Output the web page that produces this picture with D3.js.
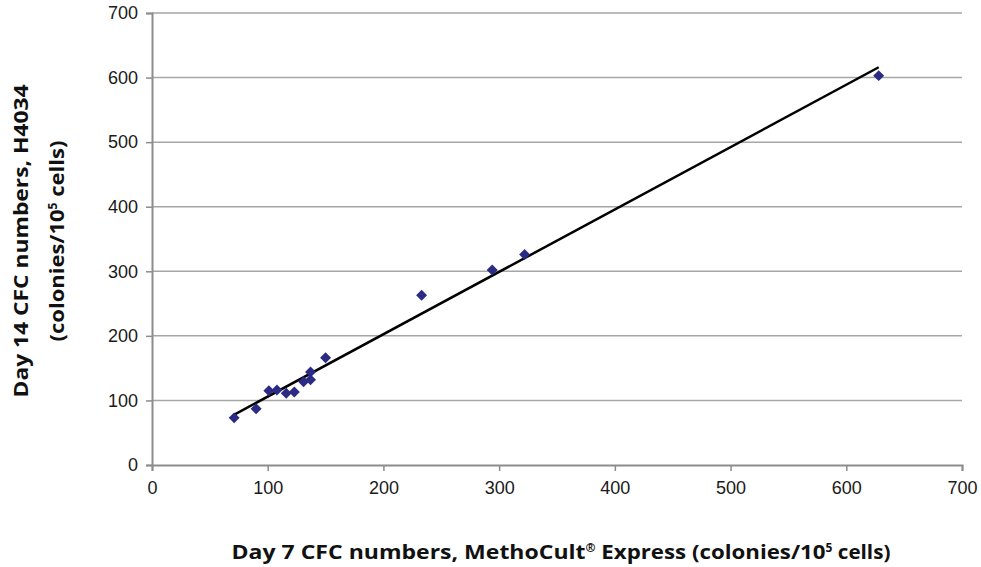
<!DOCTYPE html>
<html>
<head>
<meta charset="utf-8">
<script src="https://cdn.jsdelivr.net/npm/d3@7"></script>
<style>
  html, body { margin: 0; padding: 0; background: #fff; }
  svg { display: block; }
</style>
</head>
<body>
<svg id="chart" width="981" height="567"></svg>
<script>
// Day 7 CFC numbers (MethoCult Express)
const day7 = [71, 90, 101, 108, 116, 123, 131, 137, 137, 150, 233, 294, 322, 628];
// Day 14 CFC numbers (H4034)
const day14 = [73, 87, 115, 116, 111, 113, 129, 132, 144, 166, 263, 302, 326, 603];
// Linear trendline end points
const trendX = [70, 628];
const trendY = [77, 616];
// Axis ticks
const xTicks = [0, 100, 200, 300, 400, 500, 600, 700];
const yTicks = [0, 100, 200, 300, 400, 500, 600, 700];

const svg = d3.select("#chart");
const mLeft = 152, mRight = 962, mTop = 13, mBottom = 465;

const x = d3.scaleLinear().domain([0, 700]).range([mLeft, mRight]);
const y = d3.scaleLinear().domain([0, 700]).range([mBottom, mTop]);

// Horizontal gridlines
svg.append("g").selectAll("line").data(yTicks.filter(d => d > 0)).join("line")
  .attr("x1", mLeft).attr("x2", mRight)
  .attr("y1", d => y(d)).attr("y2", d => y(d))
  .attr("stroke", "#a6a6a6").attr("stroke-width", 1.5);

// X axis
const xAxis = svg.append("g").attr("transform", `translate(0,${mBottom})`)
  .call(d3.axisBottom(x).tickValues(xTicks).tickSizeOuter(0).tickSize(6).tickPadding(10));
// Y axis
const yAxis = svg.append("g").attr("transform", `translate(${mLeft},0)`)
  .call(d3.axisLeft(y).tickValues(yTicks).tickSizeOuter(0).tickSize(6).tickPadding(8));

[xAxis, yAxis].forEach(g => {
  g.select(".domain").attr("stroke", "#8c8c8c").attr("stroke-width", 2);
  g.selectAll(".tick line").attr("stroke", "#8c8c8c").attr("stroke-width", 1.5);
  g.selectAll(".tick text")
    .attr("fill", "#1a1a1a")
    .style("font-family", "'Liberation Sans', Arial, sans-serif")
    .style("font-size", "18px");
});

// Trendline
svg.append("line")
  .attr("x1", x(trendX[0])).attr("y1", y(trendY[0]))
  .attr("x2", x(trendX[1])).attr("y2", y(trendY[1]))
  .attr("stroke", "#000").attr("stroke-width", 2.5);

// Points (diamonds)
const pts = day7.map((d, i) => ({ x: d, y: day14[i] }));
const sym = d3.symbol().type(d3.symbolSquare).size(60);
svg.append("g").selectAll("path").data(pts).join("path")
  .attr("d", sym)
  .attr("transform", d => `translate(${x(d.x)},${y(d.y)}) rotate(45)`)
  .attr("fill", "#2b2b85");

// Axis titles
const titleFont = "'Open Sans', 'Noto Sans', sans-serif";
function styleTitle(t) {
  return t.style("font-family", titleFont).style("font-weight", "bold")
    .style("font-size", "20px").attr("fill", "#111");
}
const xt = styleTitle(svg.append("text")
  .attr("x", 561).attr("y", 559)
  .attr("text-anchor", "middle"));
xt.append("tspan").text("Day 7 CFC numbers, MethoCult").attr("textLength", 354).attr("lengthAdjust", "spacingAndGlyphs");
xt.append("tspan").text("®").style("font-size", "12px").attr("dy", "-7");
xt.append("tspan").text(" Express (colonies/10").attr("dy", "7").attr("textLength", 230).attr("lengthAdjust", "spacingAndGlyphs");
xt.append("tspan").text("5").style("font-size", "12px").attr("dy", "-7");
xt.append("tspan").text(" cells)").attr("dy", "7").attr("textLength", 58).attr("lengthAdjust", "spacingAndGlyphs");

const yt = svg.append("g").attr("transform", "translate(0,241) rotate(-90)");
styleTitle(yt.append("text").attr("x", 0).attr("y", 28)
  .attr("text-anchor", "middle"))
  .attr("textLength", 313).attr("lengthAdjust", "spacingAndGlyphs")
  .text("Day 14 CFC numbers, H4034");
const yt2 = styleTitle(yt.append("text").attr("x", 0).attr("y", 64)
  .attr("text-anchor", "middle"));
yt2.append("tspan").text("(colonies/10").attr("textLength", 132).attr("lengthAdjust", "spacingAndGlyphs");
yt2.append("tspan").text("5").style("font-size", "12px").attr("dy", "-7");
yt2.append("tspan").text(" cells)").attr("dy", "7").attr("textLength", 62).attr("lengthAdjust", "spacingAndGlyphs");
</script>
</body>
</html>
